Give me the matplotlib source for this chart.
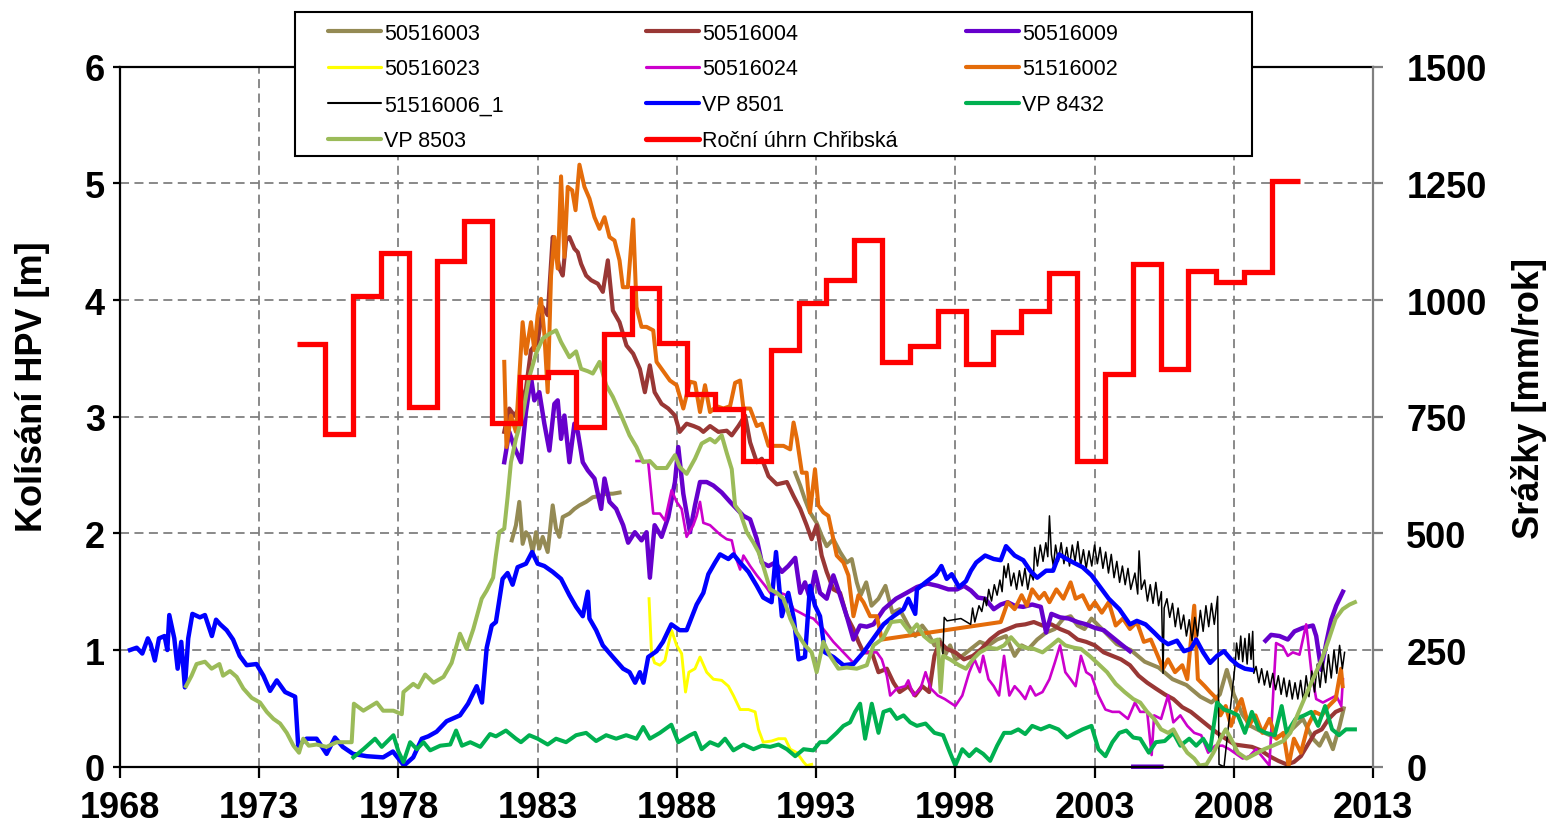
import numpy as np
import matplotlib
matplotlib.use('Agg')
import matplotlib.pyplot as plt
from matplotlib.lines import Line2D
from matplotlib.patches import Rectangle

plt.rcParams['font.family'] = ['Liberation Sans', 'DejaVu Sans']

NAN = np.nan

# ---------------- data ----------------
s50516003_year = [1982.07, 1982.22, 1982.34, 1982.46, 1982.58, 1982.7, 1982.82, 1982.94, 1983.06, 1983.18,
                  1983.36, 1983.54, 1983.66, 1983.78, 1983.9, 1984.14, 1984.32, 1984.5, 1984.74, 1984.98,
                  1985.22, 1985.46, 1985.7, 1985.94, 1988.0,
                  1992.25, 1992.43, 1992.6, 1992.78, 1993.02, 1993.2, 1993.38, 1993.62, 1993.86, 1994.1,
                  1994.28, 1994.46, 1994.6, 1994.8, 1994.99, 1995.24, 1995.49, 1995.74, 1996.0, 1996.31,
                  1996.56, 1996.81, 1997.0, 1997.25, 1997.44, 1997.62, 1997.81, 1998.0, 1998.25, 1998.56,
                  1998.88, 1999.19, 1999.5, 1999.82, 2000.13, 2000.38, 2000.63, 2000.94, 2001.26, 2001.57,
                  2001.88, 2002.14, 2002.39, 2002.64, 2002.89, 2003.14, 2003.39, 2003.8, 2004.3, 2004.8,
                  2005.3, 2005.8, 2006.3, 2006.8, 2007.2, 2007.5, 2007.75, 2008.0, 2008.3, 2008.6,
                  2009.0, 2009.5, 2010.0, 2010.48, 2010.84, 2011.08, 2011.32, 2011.56, 2011.8, 2011.95]
s50516003_val = [1.94, 2.07, 2.27, 1.91, 2.01, 1.97, 1.84, 2.01, 1.87, 1.97,
                 1.84, 2.24, 2.04, 1.97, 2.14, 2.17, 2.21, 2.24, 2.27, 2.31,
                 2.32, 2.34, 2.34, 2.35, NAN,
                 2.52, 2.41, 2.29, 2.18, 2.09, 1.98, 1.89, 1.95, 1.84, 1.75,
                 1.78, 1.58, 1.47, 1.58, 1.38, 1.44, 1.55, 1.32, 1.35, 1.21,
                 1.12, 1.21, 1.15, 1.04, 1.09, 0.95, 1.04, 0.92, 0.95, 1.01,
                 1.07, 1.04, 1.09, 1.12, 0.95, 1.04, 1.01, 1.09, 1.15, 1.18,
                 1.27, 1.29, 1.21, 1.18, 1.27, 1.21, 1.15, 1.05, 1.0, 0.9,
                 0.85, 0.75, 0.7, 0.6, 0.55, 0.62, 0.83, 0.62, 0.45, 0.35,
                 0.3, 0.25, 0.3, 0.41, 0.24, 0.18, 0.29, 0.15, 0.35, 0.5]

s50516004_year = [1981.8, 1981.98, 1982.16, 1982.34, 1982.58, 1982.76, 1983.0, 1983.18, 1983.36, 1983.54,
                  1983.66, 1983.78, 1983.9, 1984.02, 1984.14, 1984.32, 1984.44, 1984.56, 1984.74, 1984.92,
                  1985.16, 1985.34, 1985.52, 1985.7, 1985.94, 1986.19, 1986.43, 1986.67, 1986.85, 1987.03,
                  1987.2, 1987.45, 1987.69, 1987.93, 1988.1, 1988.35, 1988.6, 1988.8, 1988.95, 1989.19,
                  1989.49, 1989.79, 1989.97, 1990.21, 1990.45, 1990.63, 1990.87, 1991.05, 1991.29, 1991.59,
                  1991.95, 1992.19, 1992.43, 1992.66, 1992.84, 1993.02, 1993.2, 1993.38, 1993.62, 1993.86,
                  1994.1, 1994.34, 1994.52, 1994.7, 1995.0, 1995.24, 1995.54, 1995.78, 1996.0, 1996.31,
                  1996.56, 1996.81, 1997.06, 1997.25, 1997.44, 1997.69, 1998.0, 1998.31, 1998.63, 1998.94,
                  1999.25, 1999.57, 1999.88, 2000.19, 2000.51, 2000.82, 2001.13, 2001.45, 2001.76, 2002.07,
                  2002.39, 2002.7, 2003.01, 2003.33, 2003.64, 2003.95, 2004.27, 2004.58, 2004.89, 2005.2,
                  2005.52, 2005.83, 2006.15, 2006.46, 2006.77, 2007.08, 2007.4, 2007.71, 2008.03, 2008.34,
                  2008.65, 2008.97, 2009.28, 2009.6, 2009.9, 2010.16, 2010.41, 2010.66, 2010.91, 2011.16,
                  2011.41, 2011.66, 2011.85]
s50516004_val = [2.87, 3.07, 3.01, 3.07, 3.24, 3.57, 3.64, 3.94, 3.87, 4.54,
                 4.44, 4.27, 4.21, 4.51, 4.54, 4.44, 4.41, 4.31, 4.21, 4.17,
                 4.14, 4.07, 4.34, 3.91, 3.81, 3.61, 3.54, 3.41, 3.21, 3.44,
                 3.21, 3.11, 3.07, 3.01, 2.87, 2.94, 2.92, 2.9, 2.87, 2.92,
                 2.87, 2.88, 2.84, 2.92, 3.01, 2.78, 2.61, 2.64, 2.49, 2.42,
                 2.44, 2.32, 2.21, 2.07, 1.95, 2.07, 1.81, 1.67, 1.52, 1.49,
                 1.29, 1.18, 1.07, 0.98, 0.98, 0.81, 0.84, 0.72, 0.64, 0.69,
                 0.61, 0.69, 0.64, 0.95, 1.07, 1.01, 0.98, 0.92, 0.95, 1.01,
                 1.09, 1.15, 1.18, 1.21, 1.22, 1.24, 1.21, 1.22, 1.18, 1.15,
                 1.09, 1.07, 1.04, 0.98, 0.95, 0.92, 0.87, 0.78, 0.72, 0.67,
                 0.62, 0.58, 0.51, 0.47, 0.41, 0.35, 0.29, 0.24, 0.19, 0.18,
                 0.17, 0.14, 0.09, 0.05, 0.02, 0.04, 0.09, 0.19, 0.29, 0.32,
                 0.41, 0.47, 0.49]

s50516009_year = [1981.8, 1981.98, 1982.16, 1982.4, 1982.58, 1982.76, 1982.88, 1983.06, 1983.24, 1983.42,
                  1983.6, 1983.72, 1983.84, 1983.96, 1984.14, 1984.32, 1984.44, 1984.62, 1984.8, 1985.04,
                  1985.28, 1985.4, 1985.58, 1985.82, 1986.07, 1986.25, 1986.49, 1986.73, 1986.91, 1987.03,
                  1987.2, 1987.45, 1987.69, 1987.93, 1988.05, 1988.23, 1988.47, 1988.65, 1988.83, 1989.07,
                  1989.31, 1989.61, 1989.91, 1990.15, 1990.39, 1990.63, 1990.87, 1991.05, 1991.29, 1991.53,
                  1991.77, 1992.0, 1992.25, 1992.43, 1992.6, 1992.78, 1992.96, 1993.14, 1993.38, 1993.62,
                  1993.86, 1994.1, 1994.34, 1994.58, 1994.82, 1995.06, 1995.43, 1995.87, 1996.25, 1996.62,
                  1997.0, 1997.37, 1997.75, 1998.06, 1998.31, 1998.56, 1998.81, 1999.07, 1999.38, 1999.63,
                  1999.88, 2000.13, 2000.44, 2000.76, 2001.07, 2001.26, 2001.45, 2001.76, 2002.07, 2002.39,
                  2002.7, 2003.01, 2003.33, 2003.64, 2003.95, 2004.27, 2004.33,
                  2004.39, 2005.4, 2005.45,
                  2009.14, 2009.34, 2009.64, 2009.94, 2010.18, 2010.48, 2010.84, 2010.96, 2011.14, 2011.32,
                  2011.5, 2011.68, 2011.92]
s50516009_val = [2.61, 2.87, 2.74, 2.61, 3.04, 3.34, 3.14, 3.21, 2.94, 2.71,
                 3.11, 3.14, 2.81, 3.01, 2.61, 2.94, 2.87, 2.61, 2.54, 2.47,
                 2.21, 2.47, 2.27, 2.21, 2.07, 1.92, 2.01, 1.94, 2.01, 1.62,
                 2.07, 1.97, 2.14, 2.44, 2.74, 2.34, 2.01, 2.24, 2.44, 2.44,
                 2.41, 2.35, 2.27, 2.21, 2.15, 2.12, 1.95, 1.75, 1.72, 1.75,
                 1.67, 1.72, 1.79, 1.49, 1.58, 1.44, 1.67, 1.49, 1.44, 1.64,
                 1.47, 1.29, 1.09, 1.21, 1.2, 1.22, 1.35, 1.44, 1.49, 1.54,
                 1.57, 1.55, 1.52, 1.52, 1.55, 1.51, 1.45, 1.44, 1.35, 1.39,
                 1.41, 1.38, 1.37, 1.39, 1.37, 1.15, 1.31, 1.28, 1.27, 1.24,
                 1.22, 1.19, 1.17, 1.11, 1.05, 0.99, NAN,
                 0.0, 0.0, NAN,
                 1.08, 1.13, 1.12, 1.09, 1.16, 1.19, 1.21, 1.12, 0.83, 1.06,
                 1.26, 1.38, 1.5]

s50516023_year = [1987.0, 1987.09, 1987.2, 1987.39, 1987.57, 1987.69, 1987.81, 1987.99, 1988.17, 1988.31,
                  1988.43, 1988.65, 1988.83, 1989.07, 1989.31, 1989.61, 1989.85, 1990.03, 1990.27, 1990.57,
                  1990.81, 1990.93, 1991.1, 1991.4, 1991.65, 1991.89, 1992.07, 1992.31, 1992.55, 1992.66,
                  1992.84]
s50516023_val = [1.44, 0.97, 0.89, 0.87, 0.91, 1.04, 1.17, 1.04, 0.97, 0.64,
                 0.81, 0.84, 0.94, 0.81, 0.75, 0.74, 0.69, 0.61, 0.49, 0.49,
                 0.47, 0.32, 0.21, 0.22, 0.24, 0.24, 0.15, 0.12, 0.04, 0.01,
                 0.02]

s50516024_year = [1986.55, 1986.9, 1986.97, 1987.15, 1987.39, 1987.57, 1987.81, 1987.99, 1988.17, 1988.35,
                  1988.59, 1988.71, 1988.83, 1988.95, 1989.19, 1989.55, 1989.79, 1989.97, 1990.09, 1990.27,
                  1990.39, 1990.63, 1990.87, 1991.17, 1991.41, 1991.71, 1991.95, 1992.19, 1992.43, 1992.66,
                  1992.9, 1993.26, 1993.62, 1993.98, 1994.34, 1994.7, 1995.18, 1995.36, 1995.54, 1995.66,
                  1995.9, 1996.2, 1996.31, 1996.5, 1996.75, 1996.93, 1997.12, 1997.37, 1997.62, 1998.0,
                  1998.25, 1998.5, 1998.69, 1998.88, 1999.0, 1999.19, 1999.38, 1999.57, 1999.75, 1999.94,
                  2000.13, 2000.32, 2000.51, 2000.69, 2000.88, 2001.13, 2001.38, 2001.57, 2001.76, 2001.95,
                  2002.14, 2002.32, 2002.51, 2002.7, 2002.89, 2003.14, 2003.39, 2003.64, 2003.89, 2004.2,
                  2004.45, 2004.64, 2004.89, 2005.05, 2005.14, 2005.39, 2005.64, 2005.83, 2006.08, 2006.33,
                  2006.58, 2006.83, 2007.08, 2007.33, 2007.6, 2007.84, 2008.08, 2008.32, 2008.56, 2008.8,
                  2009.04, 2009.28, 2009.43, 2009.52, 2009.76, 2009.94, 2010.12, 2010.36, 2010.6, 2010.78,
                  2010.96, 2011.2, 2011.44, 2011.68, 2011.86, 2011.92]
s50516024_val = [2.62, 2.62, 2.61, 2.17, 2.17, 2.11, 2.37, 2.27, 2.21, 1.97,
                 2.07, 2.15, 2.27, 2.09, 2.07, 1.99, 1.95, 1.94, 1.81, 1.69,
                 1.81, 1.72, 1.64, 1.55, 1.47, 1.49, 1.47, 1.35, 1.32, 1.29,
                 1.27, 1.18, 1.07, 0.98, 0.89, 0.98, 0.98, 0.92, 0.78, 0.61,
                 0.67, 0.69, 0.74, 0.61, 0.67, 0.81, 0.67, 0.61, 0.58, 0.52,
                 0.61, 0.81, 0.92, 0.81, 0.95, 0.75, 0.69, 0.61, 0.95, 0.61,
                 0.69, 0.64, 0.58, 0.69, 0.61, 0.64, 0.75, 0.89, 1.04, 0.81,
                 0.75, 0.69, 0.95, 0.81, 0.78, 0.61, 0.49, 0.47, 0.47, 0.41,
                 0.55, 0.47, 0.47, 0.1, 0.44, 0.41, 0.61, 0.38, 0.44, 0.35,
                 0.29, 0.27, 0.12, 0.18, 0.18, 0.15, 0.11, 0.07, 0.09, 0.15,
                 0.08, 0.01, 0.69, 1.06, 1.03, 0.95, 0.98, 0.96, 1.22, 0.83,
                 0.58, 0.55, 0.58, 0.61, 0.52, 0.75]

s51516002_year = [1981.8, 1981.88, 1982.04, 1982.22, 1982.46, 1982.58, 1982.76, 1982.88, 1983.0, 1983.12,
                  1983.24, 1983.36, 1983.48, 1983.6, 1983.72, 1983.84, 1983.96, 1984.08, 1984.24, 1984.36,
                  1984.5, 1984.68, 1984.86, 1985.04, 1985.22, 1985.4, 1985.58, 1985.76, 1985.94, 1986.06,
                  1986.24, 1986.43, 1986.55, 1986.73, 1986.91, 1987.15, 1987.27, 1987.51, 1987.75, 1987.99,
                  1988.23, 1988.47, 1988.65, 1988.83, 1989.01, 1989.19, 1989.43, 1989.67, 1989.91, 1990.09,
                  1990.27, 1990.39, 1990.63, 1990.87, 1991.05, 1991.29, 1991.59, 1991.83, 1992.07, 1992.19,
                  1992.31, 1992.49, 1992.66, 1992.78, 1992.96, 1993.08, 1993.26, 1993.44, 1993.62, 1993.74,
                  1993.98, 1994.16, 1994.34, 1994.52, 1994.7, 1994.94, 1995.18, 1995.36, 1999.63, 1999.75,
                  1999.88, 2000.13, 2000.38, 2000.57, 2000.76, 2001.01, 2001.2, 2001.38, 2001.63, 2001.88,
                  2002.14, 2002.32, 2002.57, 2002.82, 2003.01, 2003.26, 2003.51, 2003.76, 2004.02, 2004.27,
                  2004.52, 2004.77, 2005.02, 2005.27, 2005.46, 2005.64, 2005.89, 2006.15, 2006.33, 2006.58,
                  2006.71, 2006.96, 2007.15, 2007.4, 2007.52, 2007.71, 2007.9, 2008.09, 2008.28, 2008.53,
                  2008.78, 2009.03, 2009.28, 2009.53, 2009.78, 2009.97, 2010.16, 2010.41, 2010.66, 2010.91,
                  2011.16, 2011.41, 2011.66, 2011.85, 2011.91]
s51516002_val = [3.47, 2.74, 3.01, 2.87, 3.81, 3.54, 3.81, 3.57, 3.87, 4.01,
                 3.71, 3.21, 4.21, 4.54, 4.27, 5.06, 4.37, 4.97, 4.94, 4.77,
                 5.16, 4.97, 4.87, 4.71, 4.61, 4.71, 4.54, 4.51, 4.34, 4.11,
                 4.11, 4.69, 3.94, 3.77, 3.77, 3.74, 3.47, 3.39, 3.31, 3.27,
                 3.07, 3.3, 3.29, 3.04, 3.27, 3.04, 3.09, 3.07, 3.09, 3.29,
                 3.31, 3.07, 3.07, 2.92, 2.94, 2.75, 2.75, 2.75, 2.72, 2.95,
                 2.81, 2.52, 2.52, 2.18, 2.55, 2.24, 2.18, 2.15, 1.95, 1.81,
                 1.75, 1.64, 1.29, 1.47, 1.41, 1.29, 1.29, 1.09, 1.24, 1.32,
                 1.41, 1.35, 1.47, 1.38, 1.52, 1.44, 1.49, 1.41, 1.52, 1.44,
                 1.58, 1.44, 1.47, 1.35, 1.41, 1.32, 1.41, 1.21, 1.27, 1.18,
                 1.24, 1.07, 1.09, 0.95, 0.84, 0.92, 0.81, 0.87, 0.75, 1.38,
                 0.75, 0.69, 0.64, 0.58, 0.44, 0.52, 0.35, 0.49, 0.58, 0.35,
                 0.44, 0.29, 0.41, 0.24, 0.29, 0.01, 0.24, 0.12, 0.35, 0.47,
                 0.44, 0.52, 0.58, 0.84, 0.69]

s51516006_year = [1997.55, 1997.6, 1997.7, 1998.2, 1998.55, 1998.62, 1998.7, 1998.85, 1998.95, 1999.05,
                  1999.12, 1999.2, 1999.3, 1999.4, 1999.5, 1999.6, 1999.68, 1999.75, 1999.82, 1999.9,
                  2000.0, 2000.1, 2000.2, 2000.3, 2000.4, 2000.5, 2000.6, 2000.7, 2000.8, 2000.85,
                  2000.95, 2001.05, 2001.15, 2001.25, 2001.32, 2001.38, 2001.45, 2001.52, 2001.6, 2001.7,
                  2001.8, 2001.9, 2002.0, 2002.1, 2002.2, 2002.3, 2002.4, 2002.5, 2002.6, 2002.7,
                  2002.8, 2002.9, 2003.0, 2003.1, 2003.2, 2003.3, 2003.4, 2003.5, 2003.6, 2003.7,
                  2003.8, 2003.9, 2004.0, 2004.1, 2004.2, 2004.3, 2004.45, 2004.55, 2004.6, 2004.68,
                  2004.8, 2004.9, 2005.0, 2005.1, 2005.2, 2005.3, 2005.4, 2005.46, 2005.5, 2005.6,
                  2005.7, 2005.8, 2005.9, 2006.0, 2006.1, 2006.2, 2006.3, 2006.4, 2006.5, 2006.6,
                  2006.7, 2006.8, 2006.9, 2007.0, 2007.1, 2007.2, 2007.3, 2007.42, 2007.47, 2007.65,
                  2008.05, 2008.1, 2008.18, 2008.25, 2008.32, 2008.4, 2008.48, 2008.55, 2008.62, 2008.68,
                  2008.72, 2008.8, 2008.9, 2009.0, 2009.1, 2009.2, 2009.3, 2009.4, 2009.5, 2009.6,
                  2009.7, 2009.8, 2009.9, 2010.0, 2010.1, 2010.2, 2010.3, 2010.4, 2010.5, 2010.6,
                  2010.7, 2010.8, 2010.9, 2011.0, 2011.1, 2011.2, 2011.3, 2011.4, 2011.5, 2011.6,
                  2011.7, 2011.8, 2011.9, 2011.98]
s51516006_val = [0.95, 1.28, 1.25, 1.27, 1.22, 1.36, 1.24, 1.38, 1.33, 1.45,
                 1.38, 1.52, 1.42, 1.56, 1.47, 1.60, 1.50, 1.72, 1.62, 1.74,
                 1.55, 1.66, 1.52, 1.68, 1.55, 1.70, 1.52, 1.66, 1.60, 1.88,
                 1.72, 1.90, 1.76, 1.92, 1.80, 2.15, 1.82, 1.72, 1.90, 1.76,
                 1.92, 1.74, 1.88, 1.72, 1.90, 1.76, 1.93, 1.72, 1.86, 1.70,
                 1.85, 1.72, 1.90, 1.74, 1.88, 1.70, 1.84, 1.66, 1.82, 1.62,
                 1.76, 1.58, 1.72, 1.56, 1.70, 1.52, 1.66, 1.48, 1.85, 1.52,
                 1.60, 1.42, 1.56, 1.40, 1.58, 1.38, 1.50, 0.80, 1.36, 1.44,
                 1.28, 1.40, 1.20, 1.36, 1.18, 1.30, 1.12, 1.26, 1.08, 1.28,
                 1.12, 1.34, 1.16, 1.38, 1.20, 1.40, 1.22, 1.46, 0.02, 0.0,
                 0.88, 1.06, 0.92, 1.12, 0.90, 1.10, 0.88, 1.14, 0.92, 1.16,
                 0.80, 0.86, 0.72, 0.84, 0.70, 0.82, 0.68, 0.80, 0.66, 0.78,
                 0.62, 0.76, 0.60, 0.74, 0.58, 0.72, 0.58, 0.74, 0.56, 0.78,
                 0.60, 0.82, 0.64, 0.88, 0.68, 0.90, 0.72, 0.96, 0.76, 1.00,
                 0.80, 1.04, 0.84, 0.98]

vp8501_year = [1968.36, 1968.6, 1968.8, 1969.0, 1969.1, 1969.25, 1969.4, 1969.6, 1969.7, 1969.77,
               1969.95, 1970.07, 1970.2, 1970.33, 1970.45, 1970.6, 1970.87, 1971.05, 1971.3, 1971.45,
               1971.6, 1971.83, 1972.06, 1972.3, 1972.55, 1972.9, 1973.15, 1973.39, 1973.63, 1973.93,
               1974.29, 1974.4, 1974.7, 1975.06, 1975.42, 1975.72, 1976.0, 1976.37, 1976.86, 1977.45,
               1977.8, 1978.2, 1978.53, 1978.84, 1979.07, 1979.37, 1979.73, 1980.21, 1980.5, 1980.81,
               1981.0, 1981.17, 1981.35, 1981.5, 1981.74, 1981.92, 1982.1, 1982.28, 1982.58, 1982.8,
               1983.0, 1983.24, 1983.54, 1983.84, 1984.14, 1984.38, 1984.62, 1984.8, 1984.86, 1985.1,
               1985.34, 1985.7, 1986.07, 1986.3, 1986.5, 1986.67, 1986.8, 1986.97, 1987.27, 1987.5,
               1987.8, 1988.1, 1988.35, 1988.71, 1988.95, 1989.13, 1989.37, 1989.55, 1989.85, 1990.03,
               1990.27, 1990.57, 1990.87, 1991.1, 1991.4, 1991.56, 1991.77, 1992.0, 1992.2, 1992.37,
               1992.6, 1992.78, 1992.96, 1993.14, 1993.32, 1993.62, 1993.98, 1994.34, 1994.7, 1995.06,
               1995.42, 1995.78, 1996.14, 1996.31, 1996.56, 1996.62, 1996.93, 1997.31, 1997.5, 1997.69,
               1997.87, 1998.13, 1998.38, 1998.56, 1998.75, 1999.07, 1999.38, 1999.63, 1999.82, 2000.13,
               2000.44, 2000.69, 2000.94, 2001.26, 2001.51, 2001.73, 2002.0, 2002.32, 2002.57, 2002.89,
               2003.2, 2003.51, 2003.89, 2004.27, 2004.52, 2004.83, 2005.14, 2005.39, 2005.64, 2005.96,
               2006.21, 2006.46, 2006.65, 2006.9, 2007.15, 2007.4, 2007.65, 2007.9, 2008.15, 2008.4,
               2008.65]
vp8501_val = [1.0, 1.02, 0.97, 1.1, 1.05, 0.91, 1.1, 1.12, 1.0, 1.3,
              1.1, 0.84, 1.07, 0.68, 1.1, 1.31, 1.28, 1.3, 1.12, 1.26,
              1.22, 1.17, 1.09, 0.95, 0.87, 0.88, 0.78, 0.65, 0.74, 0.64,
              0.6, 0.18, 0.24, 0.24, 0.11, 0.25, 0.17, 0.11, 0.09, 0.08,
              0.13, 0.01, 0.08, 0.24, 0.26, 0.3, 0.39, 0.44, 0.54, 0.69,
              0.55, 1.02, 1.21, 1.24, 1.61, 1.66, 1.56, 1.71, 1.74, 1.84,
              1.74, 1.72, 1.67, 1.61, 1.47, 1.37, 1.29, 1.5, 1.27, 1.17,
              1.04, 0.94, 0.84, 0.81, 0.72, 0.81, 0.72, 0.94, 0.99, 1.07,
              1.22, 1.17, 1.17, 1.39, 1.49, 1.65, 1.75, 1.82, 1.78, 1.82,
              1.75, 1.67, 1.55, 1.45, 1.41, 1.84, 1.29, 1.49, 1.27, 0.92,
              0.94, 1.55, 1.38, 1.29, 0.98, 0.94, 0.87, 0.88, 0.98, 1.1,
              1.22, 1.29, 1.35, 1.44, 1.31, 1.52, 1.58, 1.65, 1.72, 1.61,
              1.65, 1.54, 1.59, 1.68, 1.75, 1.81, 1.78, 1.77, 1.89, 1.81,
              1.77, 1.68, 1.62, 1.68, 1.68, 1.82, 1.78, 1.74, 1.71, 1.64,
              1.54, 1.44, 1.35, 1.22, 1.25, 1.22, 1.15, 1.09, 1.05, 1.08,
              0.99, 1.01, 1.09, 0.98, 0.89, 0.95, 0.99, 0.92, 0.87, 0.84,
              0.83]

vp8432_year = [1976.38, 1976.74, 1977.16, 1977.4, 1977.82, 1978.0, 1978.18, 1978.42, 1978.66, 1978.9,
               1979.14, 1979.5, 1979.86, 1980.07, 1980.28, 1980.58, 1980.94, 1981.29, 1981.5, 1981.86,
               1982.22, 1982.4, 1982.7, 1983.0, 1983.36, 1983.66, 1984.02, 1984.38, 1984.74, 1985.1,
               1985.46, 1985.82, 1986.18, 1986.55, 1986.79, 1987.03, 1987.39, 1987.8, 1988.05, 1988.47,
               1988.65, 1988.89, 1989.19, 1989.49, 1989.73, 1990.03, 1990.39, 1990.75, 1991.05, 1991.35,
               1991.65, 1991.95, 1992.25, 1992.55, 1992.9, 1993.14, 1993.38, 1993.74, 1993.98, 1994.22,
               1994.4, 1994.58, 1994.76, 1995.0, 1995.24, 1995.42, 1995.66, 1995.9, 1996.14, 1996.38,
               1996.62, 1996.93, 1997.25, 1997.56, 1997.81, 1998.0, 1998.25, 1998.5, 1998.75, 1999.0,
               1999.25, 1999.5, 1999.75, 2000.0, 2000.26, 2000.51, 2000.76, 2001.07, 2001.38, 2001.7,
               2002.01, 2002.32, 2002.57, 2002.89, 2003.14, 2003.39, 2003.64, 2003.89, 2004.14, 2004.39,
               2004.64, 2004.95, 2005.2, 2005.52, 2005.83, 2006.08, 2006.4, 2006.65, 2006.9, 2007.15,
               2007.4, 2007.65, 2007.9, 2008.15, 2008.4, 2008.65, 2008.9, 2009.15, 2009.47, 2009.72,
               2009.9, 2010.22, 2010.53, 2010.78, 2011.03, 2011.28, 2011.53, 2011.78, 2012.03, 2012.35]
vp8432_val = [0.08, 0.15, 0.24, 0.17, 0.27, 0.13, 0.04, 0.21, 0.15, 0.21,
              0.14, 0.18, 0.19, 0.31, 0.18, 0.21, 0.17, 0.28, 0.26, 0.31,
              0.24, 0.21, 0.27, 0.24, 0.19, 0.24, 0.21, 0.27, 0.29, 0.22,
              0.27, 0.24, 0.27, 0.24, 0.34, 0.24, 0.29, 0.36, 0.21, 0.27,
              0.29, 0.15, 0.21, 0.18, 0.24, 0.14, 0.19, 0.15, 0.18, 0.17,
              0.19, 0.15, 0.09, 0.15, 0.14, 0.21, 0.21, 0.29, 0.35, 0.38,
              0.47, 0.54, 0.24, 0.54, 0.29, 0.47, 0.49, 0.41, 0.44, 0.38,
              0.35, 0.37, 0.29, 0.27, 0.12, 0.01, 0.15, 0.09, 0.15, 0.11,
              0.05, 0.18, 0.29, 0.29, 0.32, 0.28, 0.35, 0.32, 0.35, 0.32,
              0.25, 0.29, 0.32, 0.35, 0.15, 0.09, 0.21, 0.29, 0.31, 0.25,
              0.24, 0.12, 0.21, 0.22, 0.29, 0.18, 0.24, 0.18, 0.24, 0.14,
              0.55, 0.49, 0.47, 0.44, 0.29, 0.47, 0.32, 0.29, 0.27, 0.52,
              0.29, 0.41, 0.44, 0.47, 0.35, 0.52, 0.32, 0.27, 0.32, 0.32]

vp8503_year = [1970.37, 1970.57, 1970.75, 1971.05, 1971.29, 1971.57, 1971.7, 1971.95, 1972.19, 1972.43,
               1972.73, 1973.03, 1973.27, 1973.51, 1973.75, 1973.99, 1974.23, 1974.43, 1974.58, 1974.78,
               1975.06, 1975.42, 1975.78, 1976.32, 1976.4, 1976.74, 1977.22, 1977.45, 1977.82, 1978.12,
               1978.18, 1978.53, 1978.71, 1978.96, 1979.26, 1979.62, 1979.91, 1980.21, 1980.45, 1980.69,
               1980.99, 1981.17, 1981.4, 1981.5, 1981.62, 1981.8, 1981.92, 1982.04, 1982.22, 1982.46,
               1982.7, 1982.94, 1983.18, 1983.42, 1983.66, 1983.84, 1984.14, 1984.38, 1984.56, 1984.8,
               1984.98, 1985.22, 1985.46, 1985.7, 1986.0, 1986.3, 1986.55, 1986.79, 1987.03, 1987.27,
               1987.63, 1987.93, 1988.1, 1988.35, 1988.65, 1988.89, 1989.19, 1989.37, 1989.61, 1989.79,
               1989.97, 1990.09, 1990.27, 1990.51, 1990.75, 1990.93, 1991.1, 1991.35, 1991.59, 1991.83,
               1992.07, 1992.3, 1992.6, 1992.84, 1993.02, 1993.26, 1993.5, 1993.8, 1994.1, 1994.46,
               1994.82, 1995.06, 1995.4, 1995.7, 1996.05, 1996.37, 1996.62, 1996.87, 1997.12, 1997.37,
               1997.47, 1997.56, 1997.81, 1998.13, 1998.38, 1998.63, 1998.88, 1999.19, 1999.5, 1999.75,
               2000.0, 2000.26, 2000.51, 2000.82, 2001.13, 2001.45, 2001.7, 2001.95, 2002.26, 2002.51,
               2002.82, 2003.14, 2003.45, 2003.76, 2004.08, 2004.39, 2004.64, 2004.89, 2005.14, 2005.39,
               2005.64, 2005.83, 2006.08, 2006.33, 2006.58, 2006.77, 2007.02, 2007.27, 2007.52, 2007.71,
               2007.9, 2008.15, 2008.46, 2008.78, 2009.09, 2009.4, 2009.78, 2010.03, 2010.28, 2010.53,
               2010.84, 2011.16, 2011.41, 2011.66, 2011.91, 2012.16, 2012.35]
vp8503_val = [0.69, 0.78, 0.88, 0.9, 0.84, 0.88, 0.78, 0.82, 0.77, 0.67,
              0.59, 0.55, 0.47, 0.41, 0.37, 0.29, 0.18, 0.12, 0.24, 0.18,
              0.19, 0.17, 0.21, 0.21, 0.54, 0.48, 0.55, 0.48, 0.48, 0.45,
              0.64, 0.71, 0.68, 0.79, 0.72, 0.77, 0.89, 1.14, 1.01, 1.18,
              1.44, 1.51, 1.62, 1.81, 2.01, 2.04, 2.31, 2.61, 2.81, 3.01,
              3.34, 3.54, 3.67, 3.71, 3.74, 3.64, 3.51, 3.56, 3.41, 3.39,
              3.37, 3.47, 3.27, 3.17, 3.01, 2.84, 2.74, 2.61, 2.62, 2.56,
              2.56, 2.67, 2.57, 2.51, 2.64, 2.77, 2.81, 2.78, 2.84, 2.69,
              2.55, 2.24, 2.18, 2.01, 1.92, 1.84, 1.72, 1.52, 1.49, 1.44,
              1.27, 1.15, 1.04, 0.98, 0.81, 1.07, 0.95, 0.84, 0.85, 0.84,
              0.87, 1.04, 1.1, 1.24, 1.25, 1.15, 1.22, 1.12, 1.07, 1.09,
              0.64, 0.95, 0.92, 0.87, 0.84, 0.92, 0.98, 1.02, 1.01, 1.04,
              1.11, 1.04, 1.02, 1.01, 0.98, 1.04, 1.09, 1.04, 1.02, 1.01,
              0.95, 0.88, 0.81, 0.71, 0.64, 0.58, 0.55, 0.47, 0.41, 0.32,
              0.29, 0.32, 0.21, 0.12, 0.07, 0.01, 0.02, 0.12, 0.24, 0.32,
              0.24, 0.12, 0.07, 0.11, 0.15, 0.18, 0.22, 0.29, 0.44, 0.58,
              0.75, 0.92, 1.09, 1.27, 1.35, 1.39, 1.41]

rain_years = [1974, 1975, 1976, 1977, 1978, 1979, 1980, 1981, 1982, 1983,
              1984, 1985, 1986, 1987, 1988, 1989, 1990, 1991, 1992, 1993,
              1994, 1995, 1996, 1997, 1998, 1999, 2000, 2001, 2002, 2003,
              2004, 2005, 2006, 2007, 2008, 2009]
rain_mm = [905, 713, 1008, 1100, 771, 1083, 1169, 736, 836, 846,
           728, 927, 1026, 908, 799, 766, 656, 893, 994, 1043,
           1129, 867, 902, 976, 863, 932, 977, 1058, 656, 841,
           1078, 852, 1062, 1039, 1061, 1256]

# ---------------- figure ----------------
W, H = 1553, 828
fig = plt.figure(figsize=(W / 100, H / 100), dpi=100)
ax = fig.add_axes([120 / W, 1 - 767.7 / H, 1253 / W, 700 / H])
ax.set_xlim(1968, 2013)
ax.set_ylim(0, 6)
ax.set_xticks(range(1968, 2014, 5))
ax.set_yticks(range(0, 7))

grid_kw = dict(color='#808080', linestyle=(0, (5, 3)), linewidth=1.3)
ax.grid(True, **grid_kw)
ax.set_axisbelow(True)

series = [
    ('50516003', s50516003_year, s50516003_val, '#948A54', 2.9),
    ('50516004', s50516004_year, s50516004_val, '#993735', 3.0),
    ('50516009', s50516009_year, s50516009_val, '#6600CC', 3.2),
    ('50516023', s50516023_year, s50516023_val, '#FFFF00', 2.1),
    ('50516024', s50516024_year, s50516024_val, '#CC00CC', 1.9),
    ('51516002', s51516002_year, s51516002_val, '#E46C0A', 2.9),
    ('51516006_1', s51516006_year, s51516006_val, '#000000', 1.1),
    ('VP 8501', vp8501_year, vp8501_val, '#0000FF', 3.2),
    ('VP 8432', vp8432_year, vp8432_val, '#00B050', 2.9),
    ('VP 8503', vp8503_year, vp8503_val, '#9BBB59', 2.9),
]
legend_lw = {'50516023': 2.3, '50516024': 2.3, '51516006_1': 1.5}
handles = {}
for name, xs, ys, col, lw in series:
    ax.plot(xs, ys, color=col, lw=lw, solid_joinstyle='round', clip_on=False)
    handles[name] = Line2D([], [], color=col, lw=legend_lw.get(name, 3.0),
                           solid_capstyle='round')

ax2 = ax.twinx()
ax2.set_ylim(0, 1500)
ax2.set_yticks(range(0, 1501, 250))
edges = np.append(np.array(rain_years, float), rain_years[-1] + 1) + 0.37
ax2.stairs(rain_mm, edges, baseline=None, color='#FF0000', lw=3.8)
handles['Roční úhrn Chřibská'] = Line2D([], [], color='#FF0000', lw=3.8, solid_capstyle='round')

# spines
for s in ['left', 'bottom', 'top']:
    ax.spines[s].set_color('black')
    ax.spines[s].set_linewidth(1.6)
ax.spines['right'].set_visible(False)
for s in ['left', 'bottom', 'top']:
    ax2.spines[s].set_visible(False)
ax2.spines['right'].set_color('#808080')
ax2.spines['right'].set_linewidth(1.6)

ax.tick_params(axis='x', direction='out', length=8, width=1.6, labelsize=26, pad=9)
ax.tick_params(axis='y', direction='out', length=5, width=1.6, labelsize=26, pad=6)
ax2.tick_params(axis='y', direction='out', length=7, width=1.6, color='#808080',
                labelcolor='black', labelsize=26, pad=17)
for lab in ax.get_xticklabels() + ax.get_yticklabels() + ax2.get_yticklabels():
    lab.set_fontweight('bold')

ax.set_ylabel('Kolísání HPV [m]', fontsize=26, fontweight='bold')
ax.yaxis.set_label_coords(-0.0559, 0.545)
ax2.set_ylabel('Srážky [mm/rok]', fontsize=26, fontweight='bold', rotation=90)
ax2.yaxis.set_label_coords(1.110, 0.527)

# legend box
fig.add_artist(Rectangle((295 / W, 1 - 157 / H), 957 / W, 144 / H, transform=fig.transFigure,
                         facecolor='white', edgecolor='black', lw=1.5, zorder=3))
cols = [['50516003', '50516023', '51516006_1', 'VP 8503'],
        ['50516004', '50516024', 'VP 8501', 'Roční úhrn Chřibská'],
        ['50516009', '51516002', 'VP 8432']]
col_x = [328, 646, 966]
for cx, names in zip(col_x, cols):
    fig.legend([handles[n] for n in names], names, loc='upper left',
               bbox_to_anchor=(cx / W, 1 - 23.5 / H), frameon=False, fontsize=15.5,
               borderpad=0, borderaxespad=0, handlelength=2.46, handletextpad=0.15,
               labelspacing=0.69)

fig.savefig('out.png', dpi=100)
